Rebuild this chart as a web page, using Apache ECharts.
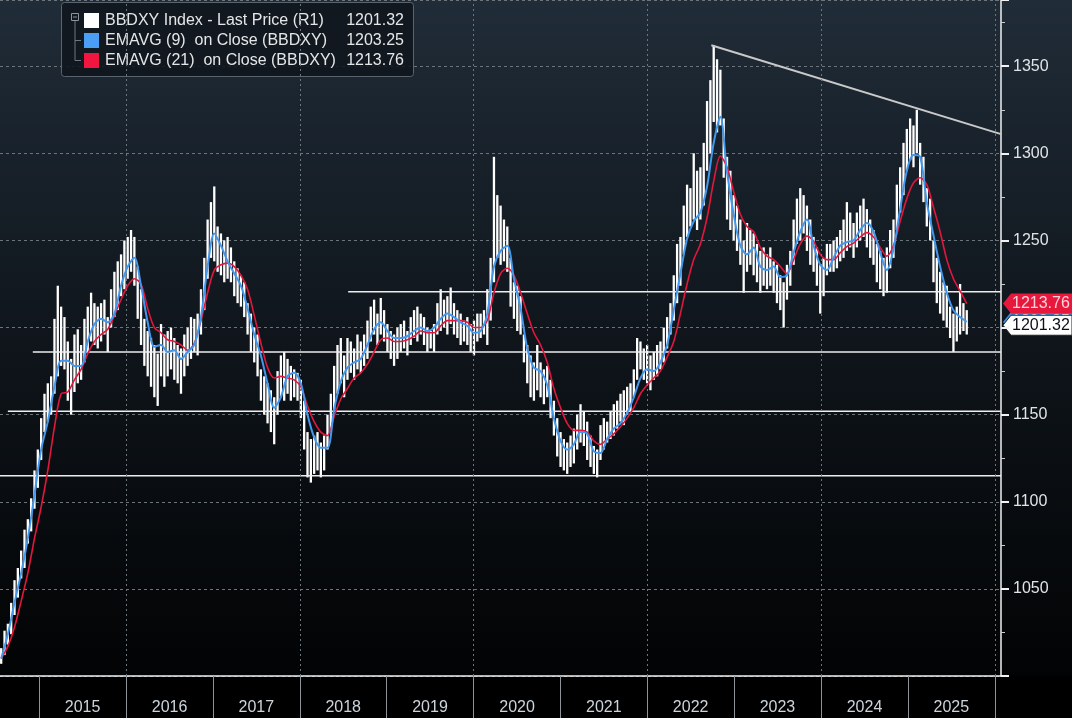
<!DOCTYPE html>
<html>
<head>
<meta charset="utf-8">
<title>BBDXY</title>
<script src="https://cdn.jsdelivr.net/npm/echarts@6/dist/echarts.min.js"></script>
<style>
  html, body { margin: 0; padding: 0; background: #000; }
  #chart { width: 1072px; height: 718px; }
</style>
</head>
<body>
<div id="chart"></div>
<script>
// 价格柱：从 barStart 开始，每 14 天一根（高/低）
const barStart = '2014-07-25';
const barStepDays = 14;
const barLow = [
  1007,1012,1018,1024,1035,1045,1056,1062,1076,1083,
  1096,1108,1124,1140,1146,1150,1162,1172,1178,1176,
  1158,1150,1163,1168,1170,1180,1186,1192,1190,1188,
  1192,1196,1186,1200,1206,1210,1218,1222,1228,1232,
  1224,1205,1190,1178,1172,1166,1160,1155,1172,1166,
  1172,1176,1170,1168,1162,1172,1178,1182,1186,1184,
  1196,1210,1228,1240,1238,1232,1230,1226,1228,1226,
  1218,1214,1212,1206,1196,1186,1180,1172,1158,1150,
  1145,1140,1133,1150,1160,1158,1162,1158,1160,1158,
  1148,1130,1114,1111,1116,1118,1114,1118,1130,1140,
  1152,1162,1168,1160,1170,1174,1170,1176,1174,1178,
  1182,1192,1196,1190,1196,1192,1186,1182,1178,1182,
  1186,1188,1184,1190,1194,1192,1196,1190,1186,1188,
  1186,1196,1198,1200,1196,1202,1196,1194,1190,1192,
  1190,1186,1184,1192,1194,1196,1190,1204,1226,1240,
  1236,1238,1232,1212,1205,1198,1196,1180,1168,1160,
  1158,1164,1160,1156,1160,1148,1138,1126,1120,1118,
  1116,1120,1122,1130,1134,1132,1124,1120,1116,1114,
  1124,1130,1134,1136,1138,1142,1146,1144,1150,1152,
  1160,1170,1176,1170,1168,1164,1170,1172,1176,1180,
  1188,1196,1204,1214,1224,1242,1252,1258,1262,1256,
  1262,1270,1290,1300,1318,1312,1316,1286,1262,1256,
  1250,1244,1236,1220,1232,1236,1230,1226,1220,1224,
  1222,1224,1220,1214,1210,1200,1216,1224,1236,1248,
  1250,1254,1244,1236,1232,1224,1208,1218,1230,1232,
  1232,1234,1238,1240,1244,1246,1240,1246,1250,1252,
  1246,1240,1236,1226,1222,1218,1220,1234,1240,1256,
  1266,1276,1290,1296,1292,1300,1282,1272,1258,1250,
  1226,1214,1208,1204,1200,1194,1186,1192,1196,1198,1196
];
const barHigh = [
  1016,1026,1030,1042,1055,1062,1072,1084,1090,1102,
  1118,1130,1148,1162,1168,1172,1205,1224,1212,1206,
  1192,1182,1196,1199,1190,1205,1212,1220,1214,1212,
  1214,1216,1206,1222,1232,1238,1242,1250,1252,1256,
  1252,1235,1222,1205,1198,1194,1190,1185,1202,1196,
  1198,1200,1194,1190,1188,1196,1200,1206,1205,1208,
  1222,1240,1262,1272,1281,1258,1254,1250,1252,1246,
  1238,1234,1230,1226,1214,1208,1200,1196,1176,1172,
  1168,1164,1160,1175,1184,1186,1182,1178,1176,1174,
  1170,1158,1140,1136,1138,1140,1134,1138,1150,1162,
  1178,1190,1194,1184,1194,1192,1188,1196,1192,1196,
  1204,1212,1216,1208,1217,1210,1202,1198,1196,1200,
  1202,1204,1198,1206,1210,1212,1208,1206,1200,1198,
  1202,1214,1222,1216,1218,1223,1214,1210,1208,1204,
  1206,1202,1204,1208,1208,1210,1222,1240,1298,1276,
  1270,1262,1258,1240,1226,1224,1218,1196,1190,1184,
  1180,1190,1180,1176,1178,1170,1158,1148,1140,1136,
  1134,1138,1142,1150,1156,1152,1146,1138,1132,1130,
  1144,1148,1146,1152,1156,1158,1162,1164,1166,1168,
  1176,1194,1192,1188,1190,1184,1186,1190,1192,1200,
  1206,1214,1230,1248,1252,1270,1282,1280,1300,1290,
  1292,1306,1330,1342,1362,1354,1348,1320,1298,1290,
  1276,1270,1262,1250,1260,1256,1254,1248,1244,1246,
  1242,1246,1238,1236,1230,1226,1236,1244,1262,1274,
  1280,1276,1270,1262,1252,1246,1236,1240,1248,1248,
  1250,1252,1256,1262,1272,1266,1260,1266,1270,1274,
  1268,1262,1256,1248,1244,1240,1246,1256,1262,1282,
  1292,1306,1314,1320,1316,1325,1306,1298,1280,1274,
  1250,1240,1232,1226,1224,1212,1208,1212,1225,1214,1210
];

// 均线：同一起点，每 28 天取一个点
const emaStepDays = 28;
const ema9 = [
  1010,1024,1042,1059,1079,1104,1130,1146,1166,1181,
  1181,1178,1178,1192,1202,1205,1203,1208,1224,1235,
  1240,1224,1203,1189,1190,1186,1187,1182,1186,1190,
  1206,1235,1254,1247,1238,1231,1224,1211,1196,1184,
  1168,1154,1160,1172,1174,1168,1150,1137,1131,1131,
  1153,1169,1177,1180,1182,1190,1199,1203,1198,1194,
  1194,1195,1198,1200,1198,1200,1205,1208,1206,1203,
  1201,1197,1198,1208,1235,1244,1247,1228,1211,1188,
  1177,1175,1167,1148,1135,1130,1133,1140,1139,1129,
  1128,1136,1142,1145,1151,1160,1171,1176,1175,1180,
  1190,1210,1231,1251,1261,1266,1281,1306,1321,1289,
  1265,1247,1242,1246,1235,1233,1235,1229,1230,1243,
  1255,1262,1247,1236,1233,1240,1247,1249,1250,1256,
  1260,1255,1243,1233,1245,1268,1290,1299,1298,1272,
  1253,1235,1220,1210,1206,1203.25
];
const ema21 = [
  1010,1017,1028,1043,1059,1079,1097,1118,1143,1162,
  1163,1170,1176,1185,1192,1196,1199,1207,1216,1224,
  1228,1225,1211,1200,1197,1193,1192,1190,1187,1191,
  1204,1220,1233,1236,1237,1235,1230,1222,1207,1191,
  1177,1171,1172,1171,1170,1166,1155,1146,1140,1138,
  1149,1159,1165,1171,1174,1179,1186,1193,1194,1192,
  1192,1193,1195,1198,1197,1197,1201,1204,1204,1204,
  1203,1200,1200,1204,1220,1231,1234,1230,1220,1208,
  1197,1190,1180,1165,1154,1145,1141,1141,1140,1135,
  1133,1136,1139,1143,1148,1154,1162,1167,1171,1175,
  1183,1192,1208,1225,1239,1248,1263,1284,1298.5,1292,
  1278,1265,1258,1255,1246,1241,1239,1235,1231,1239,
  1248,1252.5,1249.5,1242,1239,1239,1243,1246.5,1248.5,1252,
  1254.5,1252,1246,1241,1247,1261,1274,1283,1286,1282,
  1269,1255,1239,1228,1221,1213.76
];

const lastPrice = 1201.32;
const lastEma9 = 1203.25;
const lastEma21 = 1213.76;

// 水平支撑/阻力线和下降趋势线
const levelValues = [1220.5, 1186, 1152, 1115];
const levelStarts = ['2018-07-23', '2014-12-05', '2014-08-22', '2014-07-20'];
const trendDates = ['2022-09-27', '2026-01-27'];
const trendValues = [1362, 1311];

const yearBounds = ['2015','2016','2017','2018','2019','2020','2021','2022','2023','2024','2025','2026'];
const yearNames = ['2015','2016','2017','2018','2019','2020','2021','2022','2023','2024','2025'];
const dottedYears = ['2016','2018','2020','2022','2024','2026'];

const DAY = 86400000;
const xMin = Date.parse('2014-07-20');
const xMax = Date.parse('2026-01-27');
const t0 = Date.parse(barStart);

const barData = barLow.map((lo, i) => [t0 + i * barStepDays * DAY, lo, barHigh[i]]);
const ema9Data = ema9.map((v, k) => [t0 + k * emaStepDays * DAY, v]);
const ema21Data = ema21.map((v, k) => [t0 + k * emaStepDays * DAY, v]);

const FONT = '"Liberation Sans", Arial, sans-serif';

const chart = echarts.init(document.getElementById('chart'));

const levelSeries = levelValues.map((v, i) => ({
  type: 'line',
  data: [[Date.parse(levelStarts[i]), v], [xMax, v]],
  showSymbol: false,
  silent: true,
  z: 3,
  lineStyle: { color: '#eeeeee', width: 1.5 }
}));

const option = {
  animation: false,
  backgroundColor: '#000',
  grid: { left: 0, right: 71, top: 0, bottom: 42 },
  xAxis: {
    type: 'value',
    min: xMin,
    max: xMax,
    axisLine: { onZero: false, lineStyle: { color: '#f2f2f2', width: 1.5 } },
    axisTick: {
      customValues: yearBounds.map(y => Date.parse(y + '-01-01')),
      length: 42,
      lineStyle: { color: '#8c9399', width: 1 }
    },
    axisLabel: {
      customValues: yearNames.map(y => Date.parse(y + '-07-02')),
      formatter: v => String(new Date(v).getUTCFullYear()),
      color: '#cdd5dc',
      fontFamily: FONT,
      fontSize: 16,
      margin: 24
    },
    splitLine: { show: false }
  },
  yAxis: {
    type: 'value',
    position: 'right',
    min: 1000,
    max: 1388,
    interval: 50,
    axisLine: { show: true, lineStyle: { color: '#f2f2f2', width: 1.5 } },
    axisTick: { show: true, length: 8, lineStyle: { color: '#f2f2f2', width: 2 } },
    minorTick: { show: true, splitNumber: 2, length: 4, lineStyle: { color: '#cccccc' } },
    axisLabel: {
      color: '#e0e4e8',
      fontFamily: FONT,
      fontSize: 16,
      margin: 12,
      // 1200 被右侧数值标签盖住
      formatter: v => (v % 50 === 0 && v !== 1000 && v !== 1200) ? String(v) : ''
    },
    splitLine: { show: true, lineStyle: { color: '#6c747c', type: [3, 3], width: 1 } }
  },
  series: [
    {
      // 只用来挂竖向虚线
      type: 'line',
      data: [[xMin, 1000], [xMax, 1000]],
      showSymbol: false,
      silent: true,
      z: 1,
      lineStyle: { width: 0, opacity: 0 },
      markLine: {
        silent: true,
        symbol: ['none', 'none'],
        label: { show: false },
        lineStyle: { color: '#6c747c', type: [2, 3], width: 1 },
        data: dottedYears.map(y => ({ xAxis: Date.parse(y + '-01-01') }))
      }
    },
    {
      type: 'custom',
      name: 'BBDXY',
      data: barData,
      encode: { x: 0, y: [1, 2] },
      z: 2,
      renderItem: function (params, api) {
        const lo = api.coord([api.value(0), api.value(1)]);
        const hi = api.coord([api.value(0), api.value(2)]);
        return {
          type: 'line',
          shape: { x1: lo[0], y1: lo[1], x2: hi[0], y2: hi[1] },
          style: { stroke: '#ffffff', lineWidth: 2.3 }
        };
      }
    },
    ...levelSeries,
    {
      type: 'line',
      data: trendDates.map((d, i) => [Date.parse(d), trendValues[i]]),
      showSymbol: false,
      silent: true,
      z: 3,
      lineStyle: { color: '#c9c9c9', width: 2 }
    },
    {
      type: 'line',
      name: 'EMAVG (21)',
      data: ema21Data,
      smooth: 0.3,
      showSymbol: false,
      z: 4,
      lineStyle: { color: '#e3173e', width: 1.6 }
    },
    {
      type: 'line',
      name: 'EMAVG (9)',
      data: ema9Data,
      smooth: 0.3,
      showSymbol: false,
      z: 5,
      lineStyle: { color: '#4298ee', width: 2 }
    }
  ]
};

chart.setOption(option);

// 背景渐变 + 图例 + 右侧数值标签
function tag(value, fill, textColor, stroke) {
  const y = chart.convertToPixel({ yAxisIndex: 0 }, value);
  return {
    type: 'group',
    z: 100,
    children: [
      {
        type: 'polygon',
        shape: { points: [[1003, y], [1011, y - 10], [1072, y - 10], [1072, y + 10], [1011, y + 10]] },
        style: { fill: fill, stroke: stroke || null, lineWidth: 1 }
      },
      {
        type: 'text',
        x: 1012, y: y,
        style: { text: value.toFixed(2), fill: textColor, font: '16px ' + FONT, verticalAlign: 'middle' }
      }
    ]
  };
}

const legendRows = [
  { text: 'BBDXY Index - Last Price (R1)', value: lastPrice, color: '#ffffff' },
  { text: 'EMAVG (9)  on Close (BBDXY)', value: lastEma9, color: '#4a9ff5' },
  { text: 'EMAVG (21)  on Close (BBDXY)', value: lastEma21, color: '#f0163f' }
];

const legendChildren = [
  {
    type: 'rect',
    shape: { x: 61.5, y: 2.5, width: 352, height: 74, r: 3 },
    style: { fill: 'rgba(16,22,29,0.88)', stroke: '#5b646d', lineWidth: 1 }
  },
  { type: 'rect', shape: { x: 71.5, y: 13.5, width: 7, height: 7 }, style: { fill: 'none', stroke: '#8d959d', lineWidth: 1 } },
  { type: 'line', shape: { x1: 73, y1: 17, x2: 77, y2: 17 }, style: { stroke: '#8d959d', lineWidth: 1 } },
  { type: 'line', shape: { x1: 75, y1: 21, x2: 75, y2: 60.5 }, style: { stroke: '#6f7780', lineWidth: 1 } },
  { type: 'line', shape: { x1: 75, y1: 40.5, x2: 81, y2: 40.5 }, style: { stroke: '#6f7780', lineWidth: 1 } },
  { type: 'line', shape: { x1: 75, y1: 60.5, x2: 81, y2: 60.5 }, style: { stroke: '#6f7780', lineWidth: 1 } }
];
legendRows.forEach((row, i) => {
  const cy = 20.5 + i * 20;
  legendChildren.push(
    { type: 'rect', shape: { x: 84, y: cy - 7.5, width: 15, height: 15 }, style: { fill: row.color } },
    { type: 'text', x: 105, y: cy, style: { text: row.text, fill: '#e4e6e8', font: '16px ' + FONT, verticalAlign: 'middle' } },
    { type: 'text', x: 404, y: cy, style: { text: row.value.toFixed(2), fill: '#e4e6e8', font: '16px ' + FONT, verticalAlign: 'middle', align: 'right' } }
  );
});

chart.setOption({
  graphic: [
    {
      type: 'rect',
      z: -10,
      silent: true,
      shape: { x: 0, y: 0, width: 1072, height: 676 },
      style: {
        fill: new echarts.graphic.LinearGradient(0, 0, 0, 1, [
          { offset: 0, color: '#202c38' },
          { offset: 0.5, color: '#0f151b' },
          { offset: 1, color: '#020304' }
        ])
      }
    },
    { type: 'group', z: 90, children: legendChildren },
    tag(lastEma9, '#3d8fe8', '#ffffff'),
    tag(lastEma21, '#e8173c', '#ffd2da'),
    tag(lastPrice, '#ffffff', '#0b0f1a', '#222')
  ]
});
</script>
</body>
</html>
